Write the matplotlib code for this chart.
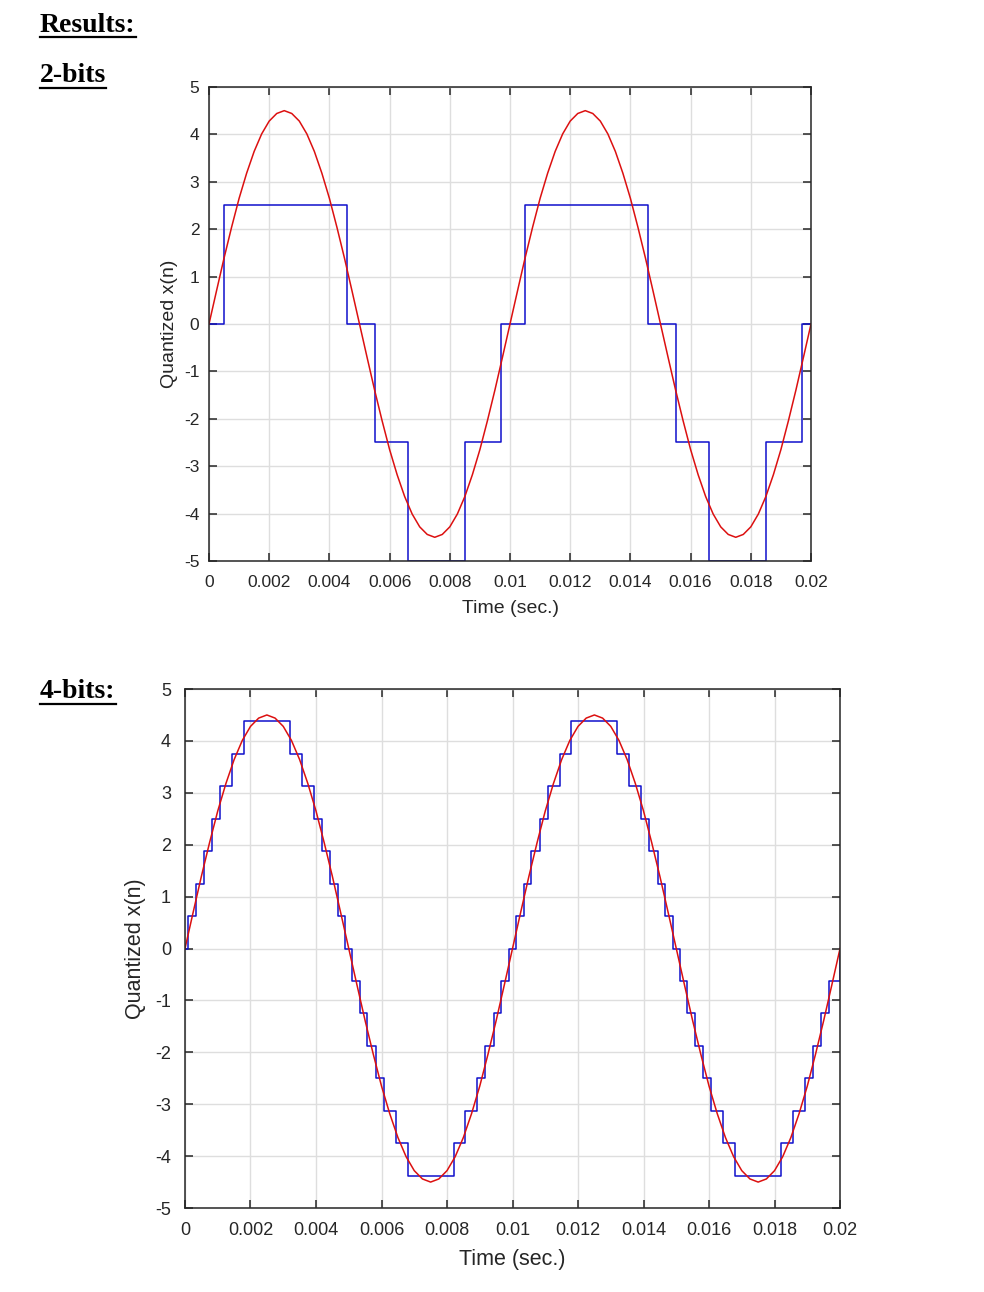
import numpy as np
import matplotlib
matplotlib.use('Agg')
import matplotlib.pyplot as plt
from matplotlib.lines import Line2D

# analog signal, one value every 0.25 ms from 0 to 0.02 s
x_analog = [0, 0.70, 1.39, 2.04, 2.65, 3.18, 3.64, 4.01, 4.28, 4.44,
            4.50, 4.44, 4.28, 4.01, 3.64, 3.18, 2.65, 2.04, 1.39, 0.70,
            0, -0.70, -1.39, -2.04, -2.65, -3.18, -3.64, -4.01, -4.28, -4.44,
            -4.50, -4.44, -4.28, -4.01, -3.64, -3.18, -2.65, -2.04, -1.39, -0.70,
            0, 0.70, 1.39, 2.04, 2.65, 3.18, 3.64, 4.01, 4.28, 4.44,
            4.50, 4.44, 4.28, 4.01, 3.64, 3.18, 2.65, 2.04, 1.39, 0.70,
            0, -0.70, -1.39, -2.04, -2.65, -3.18, -3.64, -4.01, -4.28, -4.44,
            -4.50, -4.44, -4.28, -4.01, -3.64, -3.18, -2.65, -2.04, -1.39, -0.70,
            0]
t_analog = np.linspace(0, 0.02, len(x_analog))

# 2-bit quantized staircase: time where each level starts, and the level
t_2bit = [0, 0.0005, 0.0046, 0.0055, 0.0066, 0.0085, 0.0097,
          0.0105, 0.0146, 0.0155, 0.0166, 0.0185, 0.0197, 0.02]
q_2bit = [0, 2.5, 0, -2.5, -5, -2.5, 0,
          2.5, 0, -2.5, -5, -2.5, 0, 0]

# 4-bit quantized staircase
t_4bit = [0, 0.0001, 0.00034, 0.00057, 0.00083, 0.00107, 0.00144, 0.0018,
          0.0032, 0.00356, 0.00393, 0.00417, 0.00443, 0.00466, 0.0049,
          0.0051, 0.00534, 0.00557, 0.00583, 0.00607, 0.00644, 0.0068,
          0.0082, 0.00856, 0.00893, 0.00917, 0.00943, 0.00966, 0.0099,
          0.0101, 0.01034, 0.01057, 0.01083, 0.01107, 0.01144, 0.0118,
          0.0132, 0.01356, 0.01393, 0.01417, 0.01443, 0.01466, 0.0149,
          0.0151, 0.01534, 0.01557, 0.01583, 0.01607, 0.01644, 0.0168,
          0.0182, 0.01856, 0.01893, 0.01917, 0.01943, 0.01966, 0.02]
q_4bit = [0, 0.625, 1.25, 1.875, 2.5, 3.125, 3.75, 4.375,
          3.75, 3.125, 2.5, 1.875, 1.25, 0.625, 0,
          -0.625, -1.25, -1.875, -2.5, -3.125, -3.75, -4.375,
          -3.75, -3.125, -2.5, -1.875, -1.25, -0.625, 0,
          0.625, 1.25, 1.875, 2.5, 3.125, 3.75, 4.375,
          3.75, 3.125, 2.5, 1.875, 1.25, 0.625, 0,
          -0.625, -1.25, -1.875, -2.5, -3.125, -3.75, -4.375,
          -3.75, -3.125, -2.5, -1.875, -1.25, -0.625, 0]

x_ticks = [0, 0.002, 0.004, 0.006, 0.008, 0.01, 0.012, 0.014, 0.016, 0.018, 0.02]
x_tick_labels = ['0', '0.002', '0.004', '0.006', '0.008', '0.01',
                 '0.012', '0.014', '0.016', '0.018', '0.02']
y_ticks = [-5, -4, -3, -2, -1, 0, 1, 2, 3, 4, 5]

plt.rcParams['font.family'] = ['Liberation Sans', 'DejaVu Sans']
plt.rcParams['axes.unicode_minus'] = False

fig = plt.figure(figsize=(9.84, 12.92), dpi=100)
fig.patch.set_facecolor('white')

dark = '#262626'
blue = '#1010cc'
red = '#dc1010'


def setup(ax, tick_fs, label_fs, xlab_y, ylab_x, xpad, ypad):
    ax.set_xlim(0, 0.02)
    ax.set_ylim(-5, 5)
    ax.set_xticks(x_ticks)
    ax.set_xticklabels(x_tick_labels)
    ax.set_yticks(y_ticks)
    ax.grid(True, color='#dedede', linewidth=1.0)
    ax.set_axisbelow(True)
    ax.tick_params(axis='both', direction='in', length=6, width=1.1, color=dark,
                   labelcolor=dark, labelsize=tick_fs, top=True, right=True)
    ax.tick_params(axis='x', pad=xpad)
    ax.tick_params(axis='y', pad=ypad)
    for s in ax.spines.values():
        s.set_color(dark)
        s.set_linewidth(1.1)
    ax.set_xlabel('Time (sec.)', fontsize=label_fs, color=dark)
    ax.set_ylabel('Quantized x(n)', fontsize=label_fs, color=dark)
    ax.xaxis.set_label_coords(0.5, xlab_y)
    ax.xaxis.label.set_va('center')
    ax.yaxis.set_label_coords(ylab_x, 0.5)
    ax.yaxis.label.set_va('center')


ax1 = fig.add_axes([0.2124, 0.5658, 0.6118, 0.3669])
ax1.step(t_2bit, q_2bit, where='post', color=blue, linewidth=1.1)
ax1.plot(t_analog, x_analog, color=red, linewidth=1.1)
setup(ax1, 12.5, 14, -0.1, -0.066, 10, 7)

ax2 = fig.add_axes([0.188, 0.065, 0.6657, 0.4017])
ax2.step(t_4bit, q_4bit, where='post', color=blue, linewidth=1.1)
ax2.plot(t_analog, x_analog, color=red, linewidth=1.1)
setup(ax2, 13, 15.5, -0.1, -0.076, 10, 10)

# section headings, underlined
headings = [('Results:', 40, 25), ('2-bits', 40, 76), ('4-bits:', 40, 692)]
fig.canvas.draw()
renderer = fig.canvas.get_renderer()
for txt, px, py in headings:
    t = fig.text(px / 984, 1 - py / 1292, txt, fontsize=20, fontweight='bold',
                 family='Liberation Serif', ha='left', va='center', color='black')
    bb = t.get_window_extent(renderer=renderer)
    x0, x1 = bb.x0 / 984, bb.x1 / 984
    yl = (bb.y0 + 1) / 1292
    fig.add_artist(Line2D([x0, x1], [yl, yl], color='black', linewidth=1.6,
                          transform=fig.transFigure))

fig.savefig('out.png', dpi=100, facecolor='white')
